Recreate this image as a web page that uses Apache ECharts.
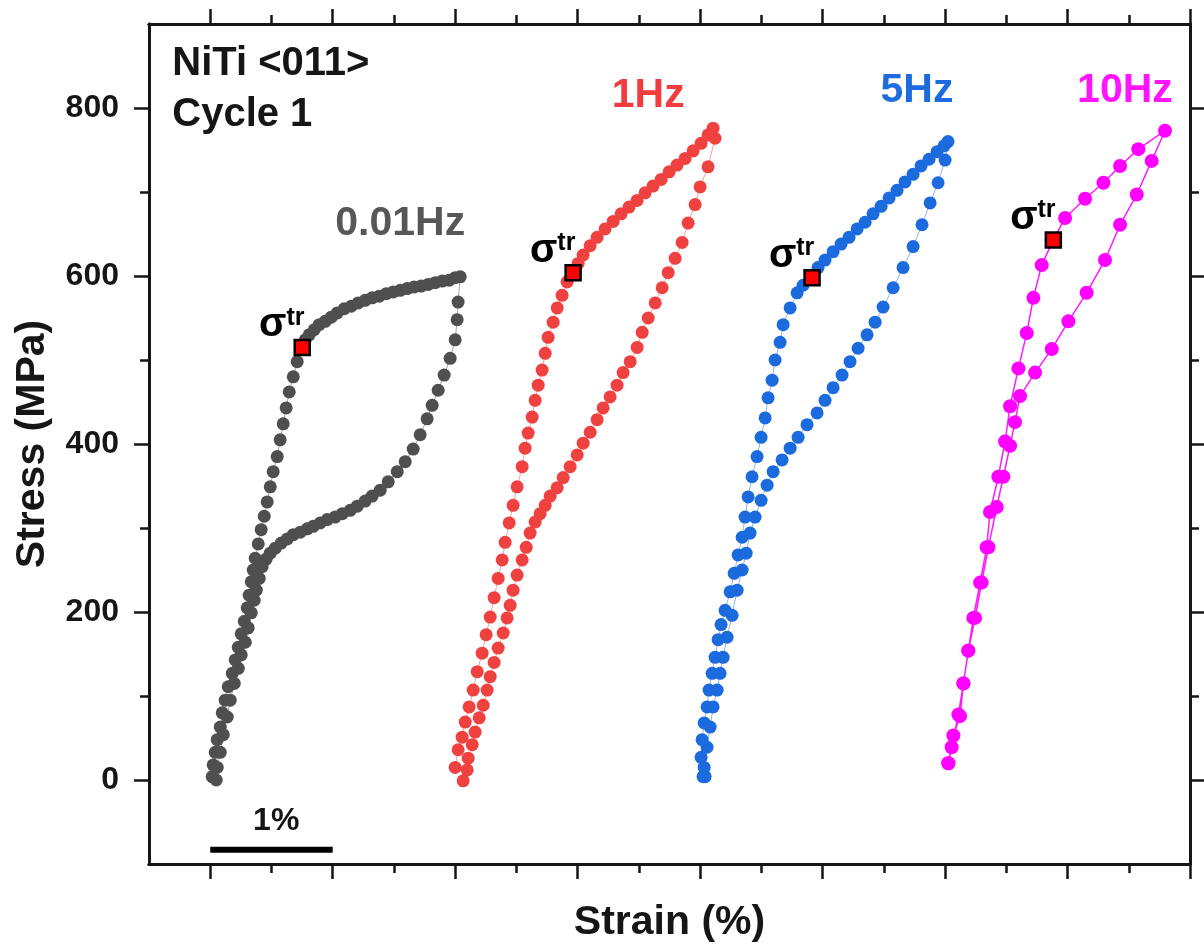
<!DOCTYPE html>
<html><head><meta charset="utf-8">
<script src="https://cdn.jsdelivr.net/npm/echarts@6/dist/echarts.min.js"></script>
<style>html,body{margin:0;padding:0;background:#fff}#chart{width:1204px;height:952px}</style>
</head><body><div id="chart"></div>
<script>
// ---- data: [strain (%), stress (MPa)] ----
const loop001Loading = [
[0.016,4],[0.024,18],[0.041,33],[0.057,48],[0.082,63],[0.098,80],[0.122,95],[0.147,111],[0.180,127],[0.204,143],[0.229,158],[0.253,174],[0.278,189],[0.302,205],[0.318,220],[0.335,236],[0.351,250],[0.367,264],[0.392,281],[0.416,298],[0.441,314],[0.465,331],[0.490,349],[0.514,367],[0.547,385],[0.571,405],[0.596,424],[0.620,443],[0.645,462],[0.678,480],[0.710,498],[0.751,515],
[0.776,524],[0.808,530],[0.849,536],[0.890,542],[0.939,546],[0.988,551],[1.037,556],[1.094,561],[1.151,564],[1.208,568],[1.265,571],[1.322,574],[1.380,576],[1.437,579],[1.494,581],[1.551,583],[1.608,585],[1.665,587],[1.722,588],[1.780,590],[1.837,592],[1.894,594],[1.951,595],[2.000,598],[2.041,599]
];
const loop001Unloading = [
[2.024,569],[2.016,548],[2.000,524],[1.959,502],[1.910,482],[1.861,464],[1.812,446],[1.771,430],[1.714,411],[1.657,394],[1.592,379],[1.527,367],[1.453,355],[1.388,345],[1.322,338],[1.265,332],[1.200,326],[1.143,321],[1.078,317],[1.020,313],[0.955,310],[0.898,306],[0.841,302],[0.792,299],[0.735,295],[0.678,292],[0.629,287],[0.580,282],[0.531,276],[0.490,270],[0.457,263],[0.424,254],[0.400,240],[0.376,226],[0.359,214],[0.335,199],[0.310,181],[0.286,164],[0.253,149],[0.229,133],[0.196,115],[0.163,95],[0.139,75],[0.106,54],[0.082,33],[0.057,15],[0.049,0]
];
const loop1Loading = [
[2.000,15],[2.024,36],[2.057,51],[2.082,69],[2.114,87],[2.147,107],[2.180,129],[2.220,151],[2.253,173],[2.286,194],[2.318,217],[2.351,240],[2.384,262],[2.408,283],[2.441,306],[2.473,327],[2.506,349],[2.547,373],[2.571,395],[2.596,413],[2.629,432],[2.653,452],[2.678,470],[2.710,488],[2.735,508],[2.759,527],[2.800,545],[2.833,562],[2.873,577],[2.914,593],[2.963,604],
[3.004,615],[3.045,625],[3.102,636],[3.159,646],[3.224,656],[3.290,665],[3.355,674],[3.420,682],[3.486,690],[3.551,699],[3.616,707],[3.682,715],[3.747,724],[3.812,732],[3.878,740],[3.943,749],[4.008,758],[4.065,768],[4.106,776]
];
const loop1Unloading = [
[4.122,764],[4.065,730],[4.000,706],[3.959,685],[3.902,663],[3.853,640],[3.796,621],[3.739,604],[3.690,586],[3.633,568],[3.576,550],[3.527,533],[3.486,515],[3.429,498],[3.371,485],[3.322,470],[3.265,456],[3.208,443],[3.159,429],[3.102,414],[3.045,401],[2.996,387],[2.939,373],[2.882,360],[2.833,348],[2.776,338],[2.735,327],[2.694,317],[2.653,307],[2.612,294],[2.580,277],[2.547,262],[2.506,244],[2.473,226],[2.449,208],[2.424,193],[2.392,175],[2.351,157],[2.318,140],[2.286,123],[2.261,107],[2.229,89],[2.196,74],[2.163,57],[2.139,42],[2.106,26],[2.098,12],[2.065,-1]
];
const loop5Loading = [
[4.024,4],[4.008,27],[4.016,48],[4.033,68],[4.057,87],[4.073,107],[4.098,127],[4.122,146],[4.147,167],[4.171,185],[4.204,202],[4.245,224],[4.278,246],[4.310,268],[4.343,289],[4.367,313],[4.392,337],[4.424,361],[4.465,385],[4.498,408],[4.531,431],[4.555,455],[4.588,476],[4.612,500],[4.653,521],[4.678,542],[4.735,562],[4.792,580],[4.841,589],[4.914,598],
[4.963,610],[5.020,619],[5.086,629],[5.151,638],[5.216,646],[5.282,656],[5.347,664],[5.412,674],[5.478,683],[5.543,693],[5.608,702],[5.673,712],[5.739,721],[5.804,731],[5.869,739],[5.935,748],[5.992,755],[6.024,760]
];
const loop5Unloading = [
[6.000,738],[5.943,711],[5.878,687],[5.812,661],[5.739,635],[5.657,610],[5.576,586],[5.494,563],[5.429,545],[5.363,530],[5.290,514],[5.224,498],[5.159,482],[5.086,467],[5.020,452],[4.955,437],[4.873,423],[4.800,408],[4.735,395],[4.669,381],[4.596,367],[4.547,351],[4.498,333],[4.449,313],[4.408,294],[4.376,270],[4.343,250],[4.302,226],[4.261,196],[4.220,170],[4.188,146],[4.163,127],[4.139,107],[4.106,87],[4.082,63],[4.057,39],[4.033,15],[4.041,4]
];
const loop10Loading = [
[6.027,20],[6.054,39],[6.109,78],[6.150,115],[6.190,154],[6.231,193],[6.286,235],[6.340,277],[6.367,319],[6.435,361],[6.490,403],[6.531,445],[6.599,490],[6.667,532],[6.721,574],[6.789,613],[6.884,643],[6.980,669],[7.143,692],[7.293,711],[7.429,731],[7.578,751],[7.796,773]
];
const loop10Unloading = [
[7.687,737],[7.565,697],[7.429,661],[7.306,619],[7.156,580],[7.007,546],[6.871,513],[6.735,485],[6.612,457],[6.571,426],[6.531,398],[6.476,361],[6.422,325],[6.354,277],[6.299,235],[6.245,193],[6.190,154],[6.150,115],[6.122,76],[6.068,53],[6.027,20]
];
// transformation stress markers
const sigmaStrain = [0.751, 2.963, 4.914, 6.884];
const sigmaStress = [515, 604, 598, 643];
// loop labels
const loopNames = ['0.01Hz', '1Hz', '5Hz', '10Hz'];
const loopColors = ['#4f4f4f', '#f04141', '#1b6ade', '#ff00ff'];
const loopLabelColors = ['#575757', '#f03c3c', '#1d6bdc', '#ff14ff'];
const loopLabelStrain = [1.551, 3.576, 5.771, 7.469];
const loopLabelStress = [662, 815, 821, 821];
// title text block
const titleLines = ['NiTi <011>', 'Cycle 1'];
const titleStrain = [-0.310, -0.310];
const titleStress = [852, 792];
// 1% scale bar
const scaleBarStrain = [0, 1];
const scaleBarStress = -83;
const scaleBarText = '1%';
const scaleBarTextPos = [0.539, -49];
// axis ticks
const xMajorTicks = [0, 1, 2, 3, 4, 5, 6, 7, 8];
const xMinorTicks = [0.5, 1.5, 2.5, 3.5, 4.5, 5.5, 6.5, 7.5];
const yMajorTicks = [0, 200, 400, 600, 800];
const yMinorTicks = [100, 300, 500, 700];

const FONT = "'Liberation Sans', Arial, sans-serif";
const INK = '#161616';

function xAxisDef(pos, ticks, len, withName) {
  return {
    type: 'value', position: pos, min: -0.5, max: 8,
    axisLine: { show: true, onZero: false, lineStyle: { color: INK, width: 3 } },
    axisTick: { show: true, inside: false, length: len, customValues: ticks, lineStyle: { color: INK, width: 2.5 } },
    axisLabel: { show: false },
    splitLine: { show: false },
    name: withName ? 'Strain (%)' : '',
    nameLocation: 'middle', nameGap: 38,
    nameTextStyle: { fontFamily: FONT, fontSize: 41, fontWeight: 'bold', color: INK }
  };
}
function yAxisDef(pos, ticks, len, withLabels) {
  return {
    type: 'value', position: pos, min: -100, max: 900,
    axisLine: { show: true, onZero: false, lineStyle: { color: INK, width: 3 } },
    axisTick: { show: true, inside: false, length: len, customValues: ticks, lineStyle: { color: INK, width: 2.5 } },
    axisLabel: withLabels ? { show: true, customValues: yMajorTicks, margin: 30, fontFamily: FONT, fontSize: 32, fontWeight: 'bold', color: INK } : { show: false },
    splitLine: { show: false },
    name: withLabels ? 'Stress (MPa)' : '',
    nameLocation: 'middle', nameGap: 96,
    nameTextStyle: { fontFamily: FONT, fontSize: 41, fontWeight: 'bold', color: INK }
  };
}

const loops = [
  loop001Loading.concat(loop001Unloading),
  loop1Loading.concat(loop1Unloading),
  loop5Loading.concat(loop5Unloading),
  loop10Loading.concat(loop10Unloading)
];

const series = [];
loops.forEach((d, i) => {
  series.push({
    name: loopNames[i], type: 'line', data: d,
    xAxisIndex: 0, yAxisIndex: 0,
    symbol: 'circle', symbolSize: i === 3 ? 14 : 13, showAllSymbol: true,
    itemStyle: { color: loopColors[i], opacity: 1 },
    lineStyle: { color: loopColors[i], width: i === 3 ? 1.5 : 1, opacity: i === 3 ? 0.9 : 0.5 },
    z: 2, animation: false
  });
});
// sigma_tr markers
series.push({
  type: 'scatter', xAxisIndex: 0, yAxisIndex: 0,
  data: sigmaStrain.map((x, i) => [x, sigmaStress[i]]),
  symbol: 'rect', symbolSize: 15,
  itemStyle: { color: '#ff0000', borderColor: '#000', borderWidth: 2.5, opacity: 1 },
  label: {
    show: true, position: 'left', distance: 0, offset: [11, -22],
    formatter: '{a|σ}{b|tr}',
    rich: {
      a: { fontFamily: FONT, fontSize: 40, fontWeight: 'bold', color: '#000', lineHeight: 40 },
      b: { fontFamily: FONT, fontSize: 25, fontWeight: 'bold', color: '#000', verticalAlign: 'top', lineHeight: 25 }
    }
  },
  z: 5, animation: false
});
// loop labels
series.push({
  type: 'scatter', xAxisIndex: 0, yAxisIndex: 0, symbolSize: 0, silent: true,
  itemStyle: { opacity: 1 },
  data: loopNames.map((n, i) => ({
    value: [loopLabelStrain[i], loopLabelStress[i]],
    label: { color: loopLabelColors[i] }
  })),
  label: {
    show: true, position: 'inside',
    formatter: p => loopNames[p.dataIndex],
    fontFamily: FONT, fontSize: 41, fontWeight: 'bold'
  },
  z: 6, animation: false
});
// title lines
series.push({
  type: 'scatter', xAxisIndex: 0, yAxisIndex: 0, symbolSize: 0, silent: true,
  itemStyle: { opacity: 1 },
  data: titleLines.map((t, i) => [titleStrain[i], titleStress[i]]),
  label: {
    show: true, position: 'right', distance: 0,
    formatter: p => titleLines[p.dataIndex],
    fontFamily: FONT, fontSize: 40, fontWeight: 'bold', color: INK
  },
  z: 6, animation: false
});
// scale bar
series.push({
  type: 'line', xAxisIndex: 0, yAxisIndex: 0,
  data: scaleBarStrain.map(x => [x, scaleBarStress]),
  symbol: 'none', lineStyle: { color: '#000', width: 6, cap: 'butt' },
  z: 4, animation: false
});
series.push({
  type: 'scatter', xAxisIndex: 0, yAxisIndex: 0, symbolSize: 0, silent: true,
  itemStyle: { opacity: 1 },
  data: [scaleBarTextPos],
  label: { show: true, position: 'inside', formatter: scaleBarText, fontFamily: FONT, fontSize: 32, fontWeight: 'bold', color: INK },
  z: 6, animation: false
});

const chart = echarts.init(document.getElementById('chart'), null, { renderer: 'canvas' });
chart.setOption({
  backgroundColor: '#ffffff',
  animation: false,
  grid: { left: 149, right: 14, top: 24, bottom: 88, containLabel: false },
  xAxis: [
    xAxisDef('bottom', xMajorTicks, 15, true),
    xAxisDef('bottom', xMinorTicks, 9, false),
    xAxisDef('top', xMajorTicks, 15, false),
    xAxisDef('top', xMinorTicks, 9, false)
  ],
  yAxis: [
    yAxisDef('left', yMajorTicks, 15, true),
    yAxisDef('left', yMinorTicks, 9, false),
    yAxisDef('right', yMajorTicks, 15, false),
    yAxisDef('right', yMinorTicks, 9, false)
  ],
  series: series
});
</script></body></html>
